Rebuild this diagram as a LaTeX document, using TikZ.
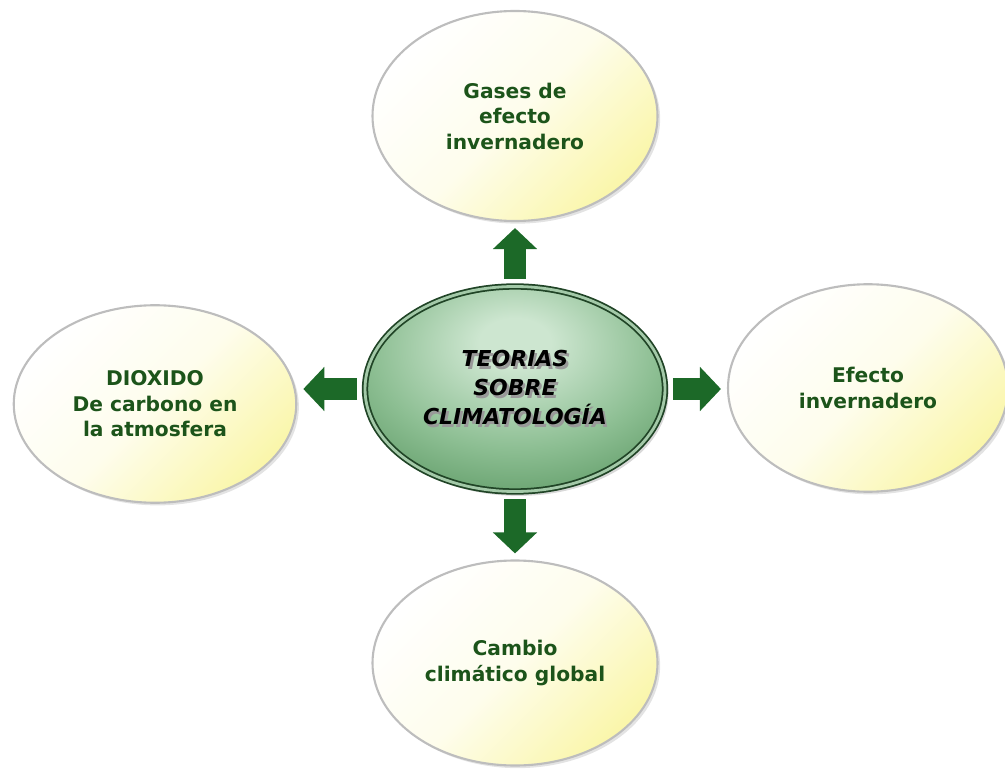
\documentclass[tikz,border=0pt]{standalone}
\usepackage{fontspec}
\setmainfont{DejaVu Sans}[ItalicFont={DejaVu Sans Oblique}, BoldFont={DejaVu Sans Bold}, BoldItalicFont={DejaVu Sans Bold Oblique}]
\usetikzlibrary{shapes.geometric, arrows.meta, shadows}

\definecolor{leafgreen}{RGB}{28,105,40}
\definecolor{textgreen}{RGB}{28,84,26}
\definecolor{paleyellow}{RGB}{250,246,170}
\definecolor{coregreen}{RGB}{66,132,74}
\definecolor{coremid}{RGB}{140,190,146}
\definecolor{corelight}{RGB}{205,230,208}
\definecolor{coreedge}{RGB}{32,68,38}

\pgfdeclareradialshading{coreshade}{\pgfpoint{0bp}{12bp}}{color(0bp)=(corelight); color(6bp)=(corelight); color(24bp)=(coremid); color(46bp)=(coregreen); color(100bp)=(coregreen)}

\newcommand{\shtext}[1]{\makebox[0pt][l]{\hspace{1.3pt}\raisebox{-1.3pt}{\textcolor{black!40}{#1}}}#1}

\begin{document}
\begin{tikzpicture}[
    bubble/.style={ellipse, draw=black!26, line width=1.2pt, left color=white, right color=paleyellow, middle color=paleyellow!22, shading angle=45,
      drop shadow={opacity=0.22, shadow xshift=1.5pt, shadow yshift=-1.5pt},
      align=center, text=textgreen, font=\bfseries\fontsize{11.5}{14.5}\selectfont},
    core/.style={ellipse, draw=coreedge, line width=1pt, double=corelight!70!coregreen, double distance=1.6pt,
      shading=coreshade,
      drop shadow={opacity=0.3, shadow xshift=2pt, shadow yshift=-2.5pt},
      minimum width=6.0cm, minimum height=4.1cm, align=center, font=\bfseries\itshape\fontsize{12.5}{16.5}\selectfont},
    bigarrow/.style={leafgreen, line width=0.44cm, -{Triangle[length=0.42cm, width=0.86cm]}, shorten <=0.14cm, shorten >=0.12cm}
  ]
    \useasboundingbox (0, 0) rectangle (20.1, 15.38);

    \node[core] (teo) at (10.3, 7.6) {\shtext{TEORIAS}\\\shtext{SOBRE}\\\shtext{CLIMATOLOGÍA}};

    \node[bubble, minimum width=5.7cm, minimum height=4.2cm] (gas) at (10.3, 13.06) {Gases de\\efecto\\invernadero};
    \node[bubble, minimum width=5.65cm, minimum height=3.95cm] (dio) at (3.1, 7.3) {DIOXIDO\\De carbono en\\la atmosfera};
    \node[bubble, minimum width=5.6cm, minimum height=4.15cm] (efe) at (17.36, 7.62) {Efecto\\invernadero};
    \node[bubble, minimum width=5.7cm, minimum height=4.1cm] (cam) at (10.3, 2.12) {Cambio\\climático global};

    \draw[bigarrow] (teo.north) -- (teo.north |- gas.south);
    \draw[bigarrow] (teo.south) -- (teo.south |- cam.north);
    \draw[bigarrow] (teo.east) -- (teo.east -| efe.west);
    \draw[bigarrow] (teo.west) -- (teo.west -| dio.east);
  \end{tikzpicture}
\end{document}
